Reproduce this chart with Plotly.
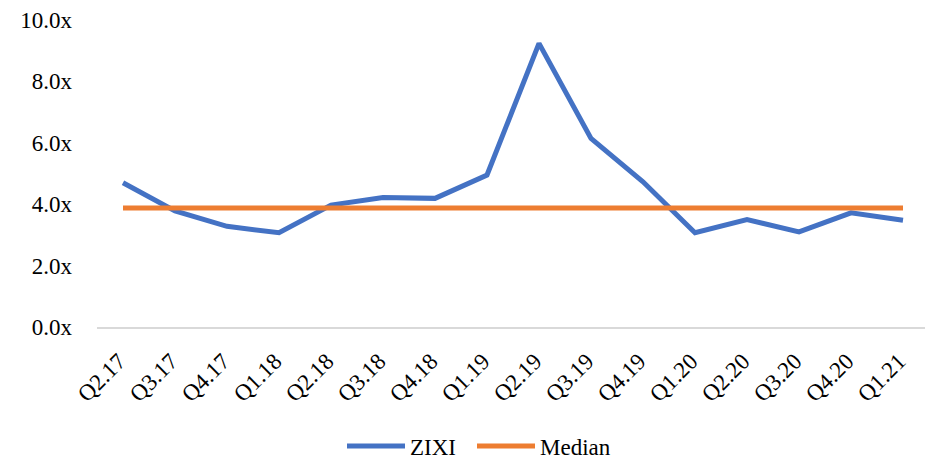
import plotly.graph_objects as go

quarters = ["Q2.17", "Q3.17", "Q4.17", "Q1.18", "Q2.18", "Q3.18", "Q4.18", "Q1.19",
            "Q2.19", "Q3.19", "Q4.19", "Q1.20", "Q2.20", "Q3.20", "Q4.20", "Q1.21"]
zixi = [4.70, 3.78, 3.28, 3.07, 3.97, 4.22, 4.19, 4.95,
        9.24, 6.14, 4.73, 3.07, 3.50, 3.10, 3.72, 3.48]
median = [3.88, 3.88, 3.88, 3.88, 3.88, 3.88, 3.88, 3.88,
          3.88, 3.88, 3.88, 3.88, 3.88, 3.88, 3.88, 3.88]
y_ticks = [0, 2, 4, 6, 8, 10]
y_tick_labels = ["0.0x", "2.0x", "4.0x", "6.0x", "8.0x", "10.0x"]

FONT = "Liberation Serif"
FS = 23

# page body has an 8px default margin, so the figure is drawn 8px in and down
W, H = 925, 454
ML, MR, MT = 89, 4, 12
MB = 135
PW = W - ML - MR

fig = go.Figure()
fig.add_trace(go.Scatter(x=quarters, y=zixi, mode="lines", name="ZIXI",
                         line=dict(color="#4472C4", width=5), legend="legend"))
fig.add_trace(go.Scatter(x=quarters, y=median, mode="lines", name="Median",
                         line=dict(color="#ED7D31", width=5), legend="legend2"))

leg_common = dict(orientation="h", xanchor="left", y=-0.388, yanchor="middle",
                  font=dict(family=FONT, size=FS), itemwidth=58,
                  bgcolor="rgba(0,0,0,0)")

fig.update_layout(
    width=W, height=H,
    margin=dict(l=ML, r=MR, t=MT, b=MB, autoexpand=False),
    plot_bgcolor="white", paper_bgcolor="white",
    font=dict(family=FONT, size=FS, color="#000000"),
    showlegend=True,
    legend=dict(x=(334 - ML) / PW, **leg_common),
    legend2=dict(x=(464 - ML) / PW, **leg_common),
    xaxis=dict(type="category", range=[-0.5, 15.5], tickangle=-45,
               showgrid=False, showline=True, linecolor="#d9d9d9", linewidth=1.5,
               ticks="", ticklabelstandoff=10, ticklabelshift=-4,
               tickfont=dict(family=FONT, size=FS), zeroline=False),
    yaxis=dict(range=[0, 10], tickvals=y_ticks, ticktext=y_tick_labels,
               showgrid=False, showline=False, zeroline=False, ticks="",
               ticklabelstandoff=24, tickfont=dict(family=FONT, size=FS)),
)

fig.write_html("out.html")
